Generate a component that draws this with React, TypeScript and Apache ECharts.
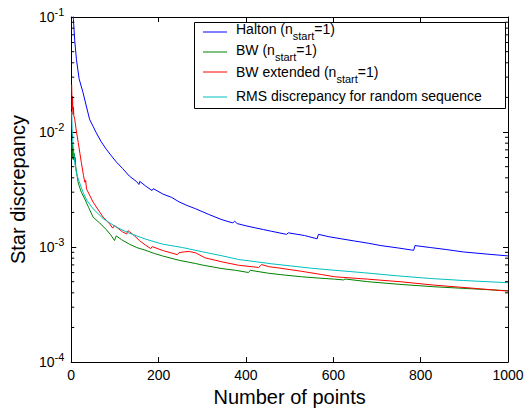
import React, { useEffect, useRef } from "react";
import * as echarts from "echarts";

const FONT = "'Liberation Sans', Arial, Helvetica, sans-serif";

// Star discrepancy against number of points, [n, D*]
const halton: [number, number][] = [
  [1, 0.3], [2, 0.19], [3, 0.14], [4, 0.11], [5, 0.095], [8, 0.062], [12, 0.0424],
  [18, 0.029], [27, 0.022], [35, 0.0165], [42, 0.0129], [50, 0.0112], [57, 0.0099],
  [68, 0.0083], [80, 0.0071], [92, 0.0062], [103, 0.0055], [118, 0.0048], [133, 0.00414],
  [150, 0.0037], [155, 0.0035], [157, 0.00372], [170, 0.0034], [185, 0.0031], [188, 0.00322],
  [209, 0.0029], [230, 0.0027], [247, 0.00247], [265, 0.0023], [285, 0.00215], [315, 0.00192],
  [345, 0.00173], [370, 0.00162], [374, 0.00168], [380, 0.0016], [400, 0.00153], [421, 0.00147],
  [440, 0.00142], [459, 0.00137], [493, 0.00129], [497, 0.00133], [534, 0.00126], [563, 0.00118],
  [566, 0.00129], [590, 0.00123], [618, 0.00118], [648, 0.00113], [680, 0.00108], [709, 0.00103],
  [750, 0.00098], [784, 0.000937], [787, 0.00103], [823, 0.00099], [860, 0.00095], [898, 0.000907],
  [950, 0.00087], [1000, 0.000838],
];

const bw: [number, number][] = [
  [1, 0.0083], [2, 0.0058], [3, 0.0078], [4, 0.0062], [5, 0.0071], [6, 0.0057], [7, 0.0065],
  [8, 0.0055], [9, 0.006], [10, 0.0051], [12, 0.0045], [16, 0.0036], [23, 0.003], [31, 0.00262],
  [40, 0.0022], [50, 0.00182], [65, 0.00162], [80, 0.00142], [90, 0.00128], [99, 0.00114],
  [103, 0.00125], [115, 0.00116], [133, 0.00106], [150, 0.00099], [171, 0.000935], [190, 0.00088],
  [209, 0.000837], [247, 0.000767], [285, 0.000719], [300, 0.000698], [345, 0.00065], [376, 0.000628],
  [406, 0.000601], [410, 0.000628], [452, 0.000592], [490, 0.00057], [527, 0.000552], [565, 0.000538],
  [603, 0.000526], [624, 0.000518], [627, 0.000528], [679, 0.0005], [755, 0.000473], [830, 0.000452],
  [906, 0.000436], [1000, 0.000417],
];

const bwExtended: [number, number][] = [
  [1, 0.0258], [2, 0.0157], [3, 0.0204], [4, 0.0142], [5, 0.0165], [6, 0.0138], [8, 0.0129],
  [12, 0.01], [16, 0.0081], [23, 0.00545], [28, 0.0042], [31, 0.00366], [33, 0.0038], [35, 0.0032],
  [50, 0.00246], [62, 0.0021], [73, 0.00182], [88, 0.00159], [95, 0.00146], [99, 0.00154],
  [118, 0.00135], [127, 0.0013], [130, 0.00139], [145, 0.00125], [156, 0.00114], [170, 0.00104],
  [182, 0.00097], [185, 0.00101], [209, 0.000935], [243, 0.000859], [247, 0.000895], [260, 0.00091],
  [270, 0.000915], [285, 0.00089], [307, 0.000805], [345, 0.000744], [383, 0.000695], [429, 0.000665],
  [436, 0.000705], [452, 0.000675], [474, 0.000659], [527, 0.000616], [573, 0.000577], [603, 0.000552],
  [679, 0.000526], [755, 0.000499], [830, 0.000467], [906, 0.000443], [1000, 0.000414],
];

const rmsRandom: [number, number][] = [
  [1, 0.0151], [2, 0.0107], [4, 0.0076], [8, 0.0054], [12, 0.0044], [16, 0.0039], [23, 0.0033],
  [27, 0.003], [35, 0.00257], [50, 0.00215], [73, 0.00177], [103, 0.00149], [133, 0.00132],
  [171, 0.00117], [209, 0.00106], [255, 0.00099], [300, 0.00091], [345, 0.00084], [383, 0.00078],
  [459, 0.000715], [550, 0.000655], [595, 0.000632], [671, 0.000598], [747, 0.000562],
  [823, 0.000533], [898, 0.000512], [1000, 0.00049],
];

const xTicks = [0, 200, 400, 600, 800, 1000];
const decadeExponents = [-4, -3, -2];
const minorMantissas = [2, 3, 4, 5, 6, 7, 8, 9];

// legend text split around the subscript: [before, subscript, after]
const seriesDefs = [
  { key: "Halton", parts: ["Halton (n", "start", "=1)"], color: "#0000ff", data: halton },
  { key: "BW", parts: ["BW (n", "start", "=1)"], color: "#008000", data: bw },
  { key: "BW extended", parts: ["BW extended (n", "start", "=1)"], color: "#ff0000", data: bwExtended },
  { key: "RMS", parts: ["RMS discrepancy for random sequence"], color: "#00bfbf", data: rmsRandom },
];

const MAIN_SIZE = 14;
const SUB_SIZE = 11;

function measure(text: string, size: number): number {
  const ctx = document.createElement("canvas").getContext("2d");
  if (!ctx) return text.length * size * 0.55;
  ctx.font = `${size}px 'Liberation Sans', Arial, sans-serif`;
  return ctx.measureText(text).width;
}

function buildOption() {
  const minorValues = decadeExponents.flatMap((e) =>
    minorMantissas.map((m) => [0, m * Math.pow(10, e)])
  );

  const axisLine = { show: true, onZero: false, lineStyle: { color: "#000", width: 1 } };
  const majorTick = { show: true, inside: true, length: 5, lineStyle: { color: "#000", width: 1 } };

  // legend box drawn by hand so rows can carry subscripts
  const legendRows = [29, 50, 72, 96];
  const legendLines = [32, 52, 72, 97];
  const textX = 236;
  const legendGraphics: any[] = [
    {
      type: "rect",
      z: 50,
      shape: { x: 194.5, y: 22.5, width: 311, height: 86 },
      style: { fill: "#fff", stroke: "#000", lineWidth: 1 },
    },
  ];
  const textEl = (text: string, x: number, y: number, size: number) => ({
    type: "text",
    z: 51,
    x,
    y,
    style: {
      text,
      fontSize: size,
      lineHeight: size,
      fontFamily: FONT,
      fill: "#000",
      verticalAlign: "middle",
      align: "left",
    },
  });
  seriesDefs.forEach((s, i) => {
    legendGraphics.push({
      type: "line",
      z: 51,
      shape: { x1: 203, y1: legendLines[i], x2: 227, y2: legendLines[i] },
      style: { stroke: s.color, lineWidth: 1 },
    });
    const [before, sub, after] = s.parts;
    legendGraphics.push(textEl(before, textX, legendRows[i], MAIN_SIZE));
    if (sub) {
      const subX = textX + measure(before, MAIN_SIZE);
      legendGraphics.push(textEl(sub, subX, legendRows[i] + 7, SUB_SIZE));
      const afterX = subX + measure(sub, SUB_SIZE);
      legendGraphics.push(textEl(after, afterX, legendRows[i], MAIN_SIZE));
    }
  });

  return {
    animation: false,
    backgroundColor: "#fff",
    textStyle: { fontFamily: FONT },
    grid: { left: 68, top: 17, right: 22, bottom: 48, containLabel: false },
    xAxis: [
      {
        type: "value",
        min: xTicks[0],
        max: xTicks[xTicks.length - 1],
        interval: 200,
        position: "bottom",
        name: "Number of points",
        nameLocation: "middle",
        nameGap: 20,
        nameTextStyle: { fontSize: 20, color: "#000", fontFamily: FONT },
        axisLine,
        axisTick: majorTick,
        axisLabel: {
          color: "#000",
          fontSize: 14,
          margin: 6,
          fontFamily: FONT,
          formatter: (v: number) => String(v),
        },
        splitLine: { show: false },
      },
      {
        type: "value",
        min: xTicks[0],
        max: xTicks[xTicks.length - 1],
        interval: 200,
        position: "top",
        axisLine,
        axisTick: majorTick,
        axisLabel: { show: false },
        splitLine: { show: false },
      },
    ],
    yAxis: [
      {
        type: "log",
        logBase: 10,
        min: 1e-4,
        max: 1e-1,
        position: "left",
        name: "Star discrepancy",
        nameLocation: "middle",
        nameGap: 37,
        nameRotate: 90,
        nameTextStyle: { fontSize: 20, color: "#000", fontFamily: FONT },
        axisLine,
        axisTick: majorTick,
        axisLabel: {
          margin: 7,
          formatter: (v: number) => `{b|10}{e|${Math.round(Math.log10(v))}}`,
          rich: {
            b: { fontSize: 14, color: "#000", fontFamily: FONT },
            e: { fontSize: 11, color: "#000", fontFamily: FONT, padding: [0, 0, 10, 0] },
          },
        },
        splitLine: { show: false },
      },
      {
        type: "log",
        logBase: 10,
        min: 1e-4,
        max: 1e-1,
        position: "right",
        axisLine,
        axisTick: majorTick,
        axisLabel: { show: false },
        splitLine: { show: false },
      },
    ],
    series: [
      ...seriesDefs.map((s) => ({
        name: s.key,
        type: "line",
        xAxisIndex: 0,
        yAxisIndex: 0,
        data: s.data,
        symbol: "none",
        showSymbol: false,
        lineStyle: { color: s.color, width: 1 },
        itemStyle: { color: s.color },
        z: 3,
      })),
      {
        // minor log ticks (2..9 per decade) on the left and right frame edges
        type: "custom",
        xAxisIndex: 0,
        yAxisIndex: 0,
        silent: true,
        z: 6,
        data: minorValues,
        renderItem: (_params: any, api: any) => {
          const v = api.value(1);
          const l = api.coord([xTicks[0], v]);
          const r = api.coord([xTicks[xTicks.length - 1], v]);
          return {
            type: "group",
            children: [
              {
                type: "line",
                shape: { x1: l[0], y1: l[1], x2: l[0] + 3, y2: l[1] },
                style: { stroke: "#000", lineWidth: 1 },
              },
              {
                type: "line",
                shape: { x1: r[0] - 3, y1: r[1], x2: r[0], y2: r[1] },
                style: { stroke: "#000", lineWidth: 1 },
              },
            ],
          };
        },
      },
    ],
    graphic: legendGraphics,
  };
}

export default function App() {
  const ref = useRef<HTMLDivElement>(null);
  useEffect(() => {
    if (!ref.current) return;
    const chart = echarts.init(ref.current, null, { renderer: "svg" });
    chart.setOption(buildOption() as any);
    return () => chart.dispose();
  }, []);
  return (
    <div
      ref={ref}
      style={{ position: "fixed", left: 0, top: 0, width: 530, height: 412, background: "#fff" }}
    />
  );
}
